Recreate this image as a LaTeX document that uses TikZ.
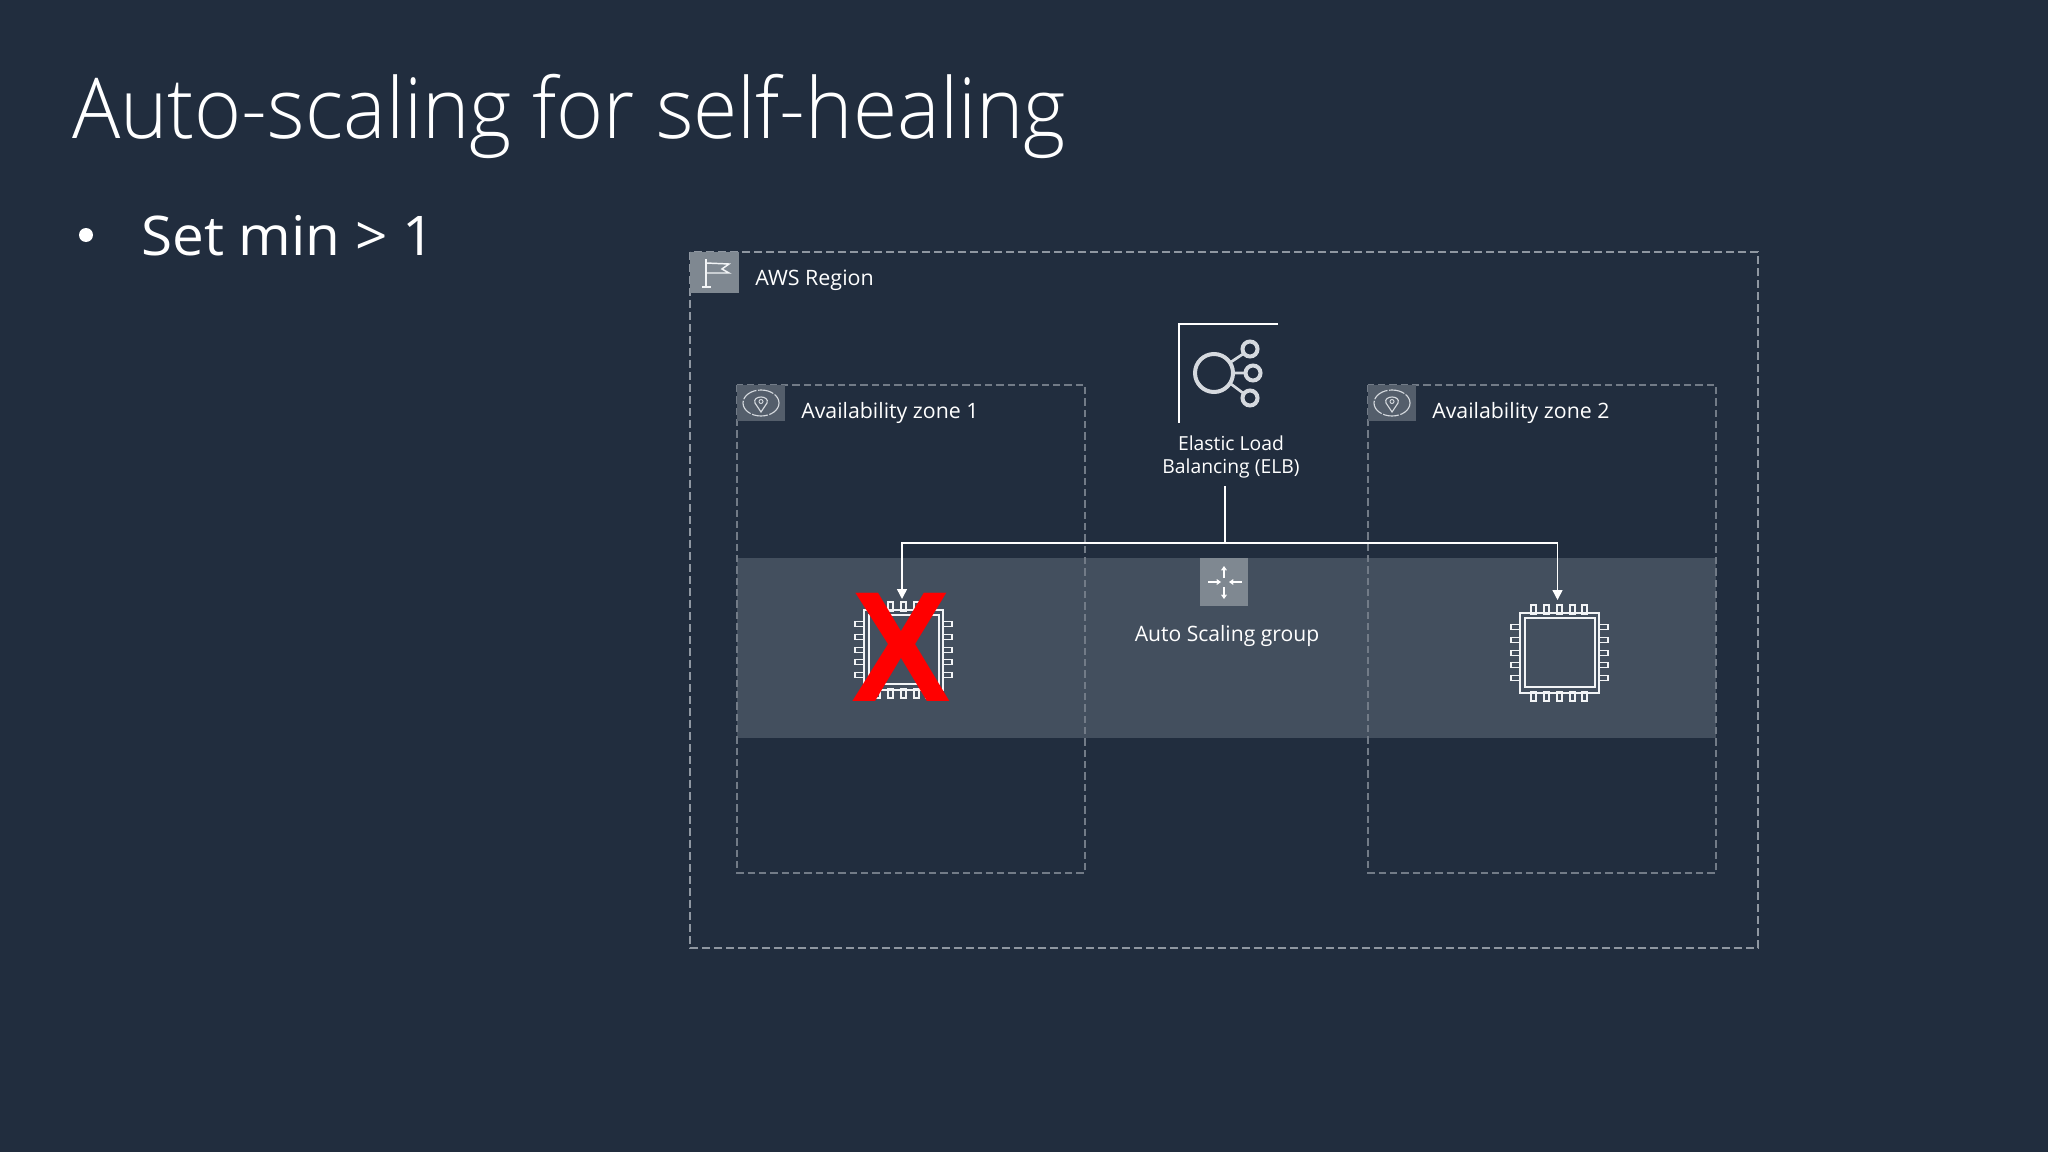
\documentclass[tikz,border=0pt]{standalone}
\usepackage{fontspec}
\setmainfont{Open Sans}
\newfontfamily\xfont{Liberation Sans}
\newfontfamily\lightfont{Open Sans Light}
\usetikzlibrary{arrows.meta}
\definecolor{bgc}{HTML}{212D3E}
\definecolor{bandc}{HTML}{434F5E}
\definecolor{tilea}{HTML}{7F8891}
\definecolor{tileb}{HTML}{545E6B}
\definecolor{dashc}{HTML}{A3AAB3}
\definecolor{linec}{HTML}{F2F4F6}
\definecolor{softc}{HTML}{D5D9DE}
\tikzset{
  lbl/.style={text=white,inner sep=0,anchor=base west,font=\fontsize{15.9}{19}\selectfont},
  regionbox/.style={draw=dashc!85!bgc,line width=.9pt,dash pattern=on 6pt off 3pt},
  zonebox/.style={draw=dashc!62!bgc,line width=.8pt,dash pattern=on 5.5pt off 3pt},
  tileA/.style={fill=tilea,draw=none},
  tileB/.style={fill=tileb,draw=none},
  icon/.style={draw=linec,line width=1.1pt},
  ring/.style={draw=softc,line width=3pt},
  conn/.style={draw=white,line width=1.1pt},
  arrowconn/.style={conn,-{Triangle[length=7.5pt,width=7.5pt]}},
  mini/.style={draw=white,line width=.85pt,-{Straight Barb[length=2.5pt,width=3.5pt]}},
  pin/.style={draw=linec,line width=1.25pt},
  zicon/.style={draw=softc,line width=.85pt},
}
\newcommand{\chipdraw}[2]{%
  \begin{scope}[shift={(#1,#2)}]
    \foreach \p in {-26,-13,0,13,25}{
      \draw[pin] (\p-2.5,-48) rectangle (\p+2.5,-39);
      \draw[pin] (\p-2.5,39) rectangle (\p+2.5,48);
    }
    \foreach \p in {-26,-13,0,12,25}{
      \draw[pin] (-48.5,\p-2.5) rectangle (-39,\p+2.5);
      \draw[pin] (39,\p-2.5) rectangle (48.5,\p+2.5);
    }
    \draw[icon] (-39.5,-40) rectangle (39.5,40);
    \draw[icon] (-34.5,-35) rectangle (35.5,34);
  \end{scope}}
\newcommand{\zoneicon}[2]{%
  \begin{scope}[shift={(#1,#2)}]
    \draw[zicon,dash pattern=on 12pt off 1.2pt] (0,0) ellipse (18 and 13);
    \draw[zicon] (0,9) -- (-6,0) .. controls (-9,-8) and (9,-8) .. (6,0) -- cycle;
    \draw[zicon,line width=.7pt] (0,-1.5) circle (2);
  \end{scope}}
\begin{document}
\begin{tikzpicture}[x=.75pt,y=-.75pt]
\useasboundingbox (0,0) rectangle (2048,1152);
\fill[bgc] (0,0) rectangle (2048,1152);

% title
\node[text=white,inner sep=0,anchor=base west,font=\lightfont\fontsize{63}{70}\selectfont,xscale=.957,transform shape] (title) at (72,139) {Auto-scaling for self-healing};
\node[text=white,inner sep=0,anchor=base west,font=\fontsize{41}{48}\selectfont,xscale=1.036,transform shape] (bullettext) at (141,255) {Set min > 1};
\fill[white] (86,235) circle (7);

% band
\fill[bandc] (737,558) rectangle (1716,738);

% containers
\draw[regionbox] (690,252) rectangle (1758,948);
\draw[zonebox] (737,385) rectangle (1085,873);
\draw[zonebox] (1368,385) rectangle (1716,873);

% tiles
\fill[tileA] (690,252) rectangle (739,293);
\fill[tileB] (737,385) rectangle (785,421);
\fill[tileB] (1368,385) rectangle (1416,421);
\fill[tilea] (1200,558) rectangle (1248,606);

% flag
\draw[icon] (706,259) -- (706,287) (702,287) -- (711,287);
\draw[icon] (706,263) -- (729,264) -- (722,269) -- (729,273) -- (706,273);

\zoneicon{761}{403}
\zoneicon{1392}{403}

% labels
\node[lbl,xscale=1.012,transform shape] (region) at (755,285) {AWS Region};
\node[lbl,xscale=1.005,transform shape] (zone1) at (801,418) {Availability zone 1};
\node[lbl,xscale=1.005,transform shape] (zone2) at (1432,418) {Availability zone 2};
\node[text=white,inner sep=0,align=center,font=\fontsize{14.5}{17.2}\selectfont] (elb) at (1231,457) {Elastic Load\\Balancing (ELB)};
\node[lbl,anchor=base,xscale=.995,transform shape] (asg) at (1227,641) {Auto Scaling group};

% ELB icon
\draw[conn,line width=1pt] (1278,324) -- (1179,324) -- (1179,423);
\draw[ring] (1214,373) circle (19);
\draw[ring] (1250,349) circle (7.5);
\draw[ring] (1253,373) circle (7.5);
\draw[ring] (1250,398) circle (7.5);
\draw[ring,line width=2pt] (1231,362) -- (1243,354) (1233,373) -- (1245,373) (1231,384) -- (1243,393);

% asg icon
\draw[mini] (1224,578) -- (1224,566);
\draw[mini] (1224,587) -- (1224,599);
\draw[mini] (1208,582) -- (1221,582);
\draw[mini] (1242,582) -- (1229,582);

% chips
\chipdraw{903.5}{650}
\chipdraw{1559.5}{653}
\node[inner sep=0,text=red,font=\xfont\bfseries\fontsize{118}{118}\selectfont,xscale=.95,transform shape] (cross) at (901.5,647) {X};

% connectors
\coordinate (elbout) at (1225,486);
\coordinate (junction) at (1225,543);
\coordinate (chipin1) at (902,599);
\coordinate (chipin2) at (1557.5,600);
\draw[conn] (elbout) -- (junction);
\draw[arrowconn] (junction) -| (chipin1);
\draw[arrowconn] (junction) -| (chipin2);
\end{tikzpicture}
\end{document}
